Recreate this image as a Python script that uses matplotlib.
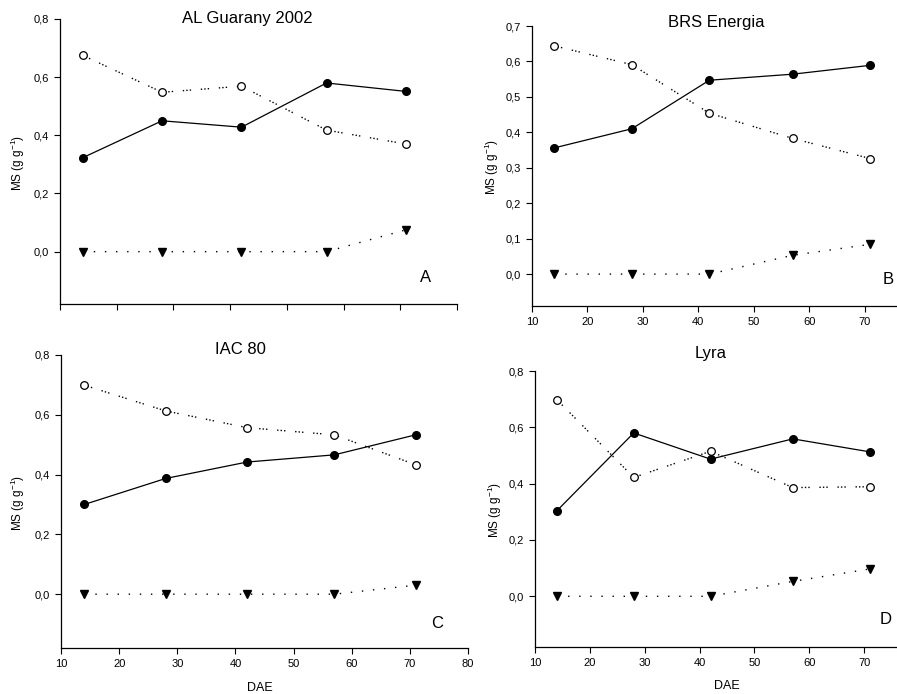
import matplotlib
matplotlib.use("Agg")
import matplotlib.pyplot as plt

plt.rcParams['font.family'] = ['Liberation Sans', 'DejaVu Sans']
plt.rcParams['mathtext.fontset'] = 'custom'
plt.rcParams['mathtext.rm'] = 'Liberation Sans'
plt.rcParams['mathtext.it'] = 'Liberation Sans'
plt.rcParams['axes.unicode_minus'] = False

# days after emergence
dae = [14, 28, 42, 57, 71]

# AL Guarany 2002
a_closed = [0.323, 0.450, 0.428, 0.580, 0.551]
a_open = [0.675, 0.548, 0.569, 0.418, 0.370]
a_tri = [0.0, 0.0, 0.0, 0.0, 0.075]

# BRS Energia
b_closed = [0.356, 0.410, 0.547, 0.564, 0.589]
b_open = [0.644, 0.591, 0.454, 0.383, 0.326]
b_tri = [0.0, 0.0, 0.0, 0.053, 0.084]

# IAC 80
c_closed = [0.300, 0.387, 0.442, 0.466, 0.533]
c_open = [0.699, 0.613, 0.557, 0.533, 0.433]
c_tri = [0.0, 0.0, 0.0, 0.0, 0.030]

# Lyra
d_closed = [0.304, 0.580, 0.487, 0.559, 0.513]
d_open = [0.698, 0.422, 0.515, 0.386, 0.389]
d_tri = [0.0, 0.0, 0.0, 0.053, 0.097]

W, H = 897, 694
fig = plt.figure(figsize=(W / 100, H / 100), dpi=100)


def px_axes(left, right, top, bottom):
    return fig.add_axes([left / W, 1 - bottom / H, (right - left) / W, (bottom - top) / H])


def draw(ax, closed, opened, tri, ylim, yticks, xticks, xlabels):
    ax.plot(dae, closed, color='black', lw=0.9, marker='o', ms=5.5, mfc='black', mec='black')
    ax.plot(dae, opened, color='black', lw=1.0, ls=(0, (1, 1.5, 1, 1.5, 1, 7)),
            marker='o', ms=5.5, mfc='white', mec='black', mew=0.9)
    ax.plot(dae, tri, color='black', lw=1.0, ls=(0, (1, 7)),
            marker='v', ms=5.5, mfc='black', mec='black')
    ax.set_xlim(10, 80)
    ax.set_ylim(*ylim)
    ax.set_xticks(xticks)
    ax.set_yticks(yticks)
    ax.set_yticklabels([('%.1f' % v).replace('.', ',') for v in yticks])
    if not xlabels:
        ax.set_xticklabels([])
    ax.spines['top'].set_visible(False)
    ax.spines['right'].set_visible(False)
    for s in ('left', 'bottom'):
        ax.spines[s].set_linewidth(0.9)
    ax.tick_params(direction='out', length=4, width=0.8, labelsize=8, pad=4)


full_x = list(range(10, 81, 10))
cut_x = list(range(10, 71, 10))

axA = px_axes(60, 457, 19, 304)
draw(axA, a_closed, a_open, a_tri, (-0.18, 0.8), [0.0, 0.2, 0.4, 0.6, 0.8], full_x, False)

axB = px_axes(532, 920, 26, 306)
draw(axB, b_closed, b_open, b_tri, (-0.09, 0.7),
     [0.0, 0.1, 0.2, 0.3, 0.4, 0.5, 0.6, 0.7], cut_x, True)

axC = px_axes(61, 468, 355, 648)
draw(axC, c_closed, c_open, c_tri, (-0.18, 0.8), [0.0, 0.2, 0.4, 0.6, 0.8], full_x, True)

axD = px_axes(535, 919, 371, 647)
draw(axD, d_closed, d_open, d_tri, (-0.18, 0.8), [0.0, 0.2, 0.4, 0.6, 0.8], cut_x, True)


def ftext(x, y, s, **kw):
    fig.text(x / W, 1 - y / H, s, ha='center', va='center', **kw)


ftext(247, 19, 'AL Guarany 2002', fontsize=12)
ftext(716, 22, 'BRS Energia', fontsize=12)
ftext(240, 350, 'IAC 80', fontsize=12)
ftext(711, 354, 'Lyra', fontsize=12)

ftext(426, 278, 'A', fontsize=12)
ftext(888, 280, 'B', fontsize=12)
ftext(437, 623, 'C', fontsize=12)
ftext(886, 620, 'D', fontsize=12)

ylab = 'MS (g g$^{-1}$)'
ftext(18, 163, ylab, fontsize=8.5, rotation=90)
ftext(492, 167, ylab, fontsize=8.5, rotation=90)
ftext(18, 503, ylab, fontsize=8.5, rotation=90)
ftext(495, 510, ylab, fontsize=8.5, rotation=90)

ftext(260, 688, 'DAE', fontsize=9)
ftext(727, 686, 'DAE', fontsize=9)

fig.savefig('out.png', dpi=100)
